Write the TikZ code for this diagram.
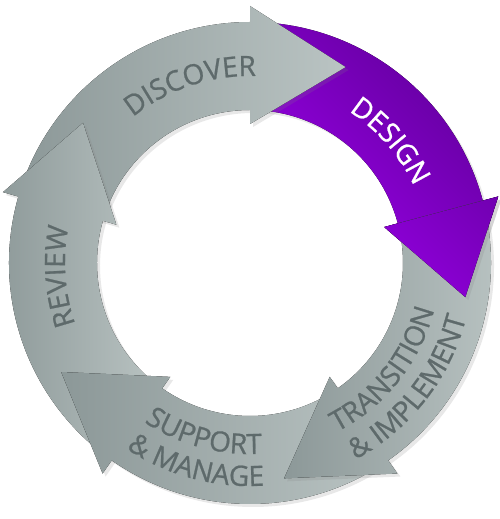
\documentclass[tikz,border=0pt]{standalone}
\usepackage{fontspec}
\setsansfont{Open Sans}
\usetikzlibrary{decorations.text,shadows}

\definecolor{ringdark}{HTML}{8C9898}
\definecolor{ringlight}{HTML}{BAC4C3}
\definecolor{purpledark}{HTML}{5C0094}
\definecolor{purplelight}{HTML}{A300F5}
\definecolor{labelgrey}{HTML}{5E6A6B}

\newcommand{\ringfont}{\sffamily\addfontfeatures{FakeBold=0.8}\fontsize{28}{32}\selectfont}
% one arrow of the ring: tail angle, base angle of the head, tip angle
\newcommand{\cyclepath}[3]{(#1:241) arc[start angle=#1, end angle=#2, radius=241]
  -- (#2:257) -- (#3:218) -- (#2:139) -- (#2:153) arc[start angle=#2, end angle=#1, radius=153] -- cycle}

\pgfdeclareradialshading{holeshadow}{\pgfpoint{0bp}{0bp}}{color(0bp)=(white); color(33bp)=(white); color(50bp)=(black!28)}

\begin{document}
\begin{tikzpicture}[x=1pt,y=1pt]
  \tikzstyle{ring shadow}=[drop shadow={opacity=0.18,shadow xshift=3pt,shadow yshift=-3pt}]
  \tikzstyle{grey arrow}=[ring shadow,left color=ringdark,right color=ringlight]
  \tikzstyle{purple arrow}=[path picture={\shade[left color=purpledark,right color=purplelight,shading angle=-45]
      (-10,-60) rectangle (262,262);}]
  \tikzstyle{ring label}=[decorate,decoration={text along path,text align=center,text color=labelgrey}]

  \useasboundingbox (-250,-256) rectangle (250,263);

  % shadow inside the hole
  \begin{scope}
    \clip (0,0) circle[radius=153];
    \shade[shading=holeshadow] (12,-14) circle[radius=175];
  \end{scope}

  % the five arrows
  \fill[ring shadow,purple arrow] \cyclepath{90}{15}{-9};     % design
  \fill[grey arrow] \cyclepath{164}{90}{64};                   % discover
  \fill[grey arrow] \cyclepath{-125}{-196}{-220};              % review
  \fill[grey arrow] \cyclepath{-55}{-125}{-150};               % support
  \fill[grey arrow] \cyclepath{15}{-55}{-81};                  % transition
  \fill[ring shadow,purple arrow] (15:257) -- (-9:218) -- (15:139) -- cycle; % design head on top

  % labels
  \path[ring label,decoration={text={|\ringfont|DISCOVER}}]
    (145:187) arc[start angle=145, end angle=72, radius=187];
  \path[ring label,decoration={text color=white,text={|\ringfont|DESIGN}}]
    (78:181) arc[start angle=78, end angle=4, radius=181];
  \path[ring label,decoration={text={|\ringfont|TRANSITION}}]
    (-75:190) arc[start angle=-75, end angle=-2, radius=190];
  \path[ring label,decoration={text={|\ringfont|{\&} IMPLEMENT}}]
    (-75:223) arc[start angle=-75, end angle=-1, radius=223];
  \path[ring label,decoration={text={|\ringfont|SUPPORT}}]
    (-140:191) arc[start angle=-140, end angle=-70, radius=191];
  \path[ring label,decoration={text={|\ringfont|{\&} MANAGE}}]
    (-140:223) arc[start angle=-140, end angle=-70, radius=223];
  \path[ring label,decoration={text={|\ringfont|REVIEW}}]
    (220:185) arc[start angle=220, end angle=148, radius=185];
\end{tikzpicture}
\end{document}
